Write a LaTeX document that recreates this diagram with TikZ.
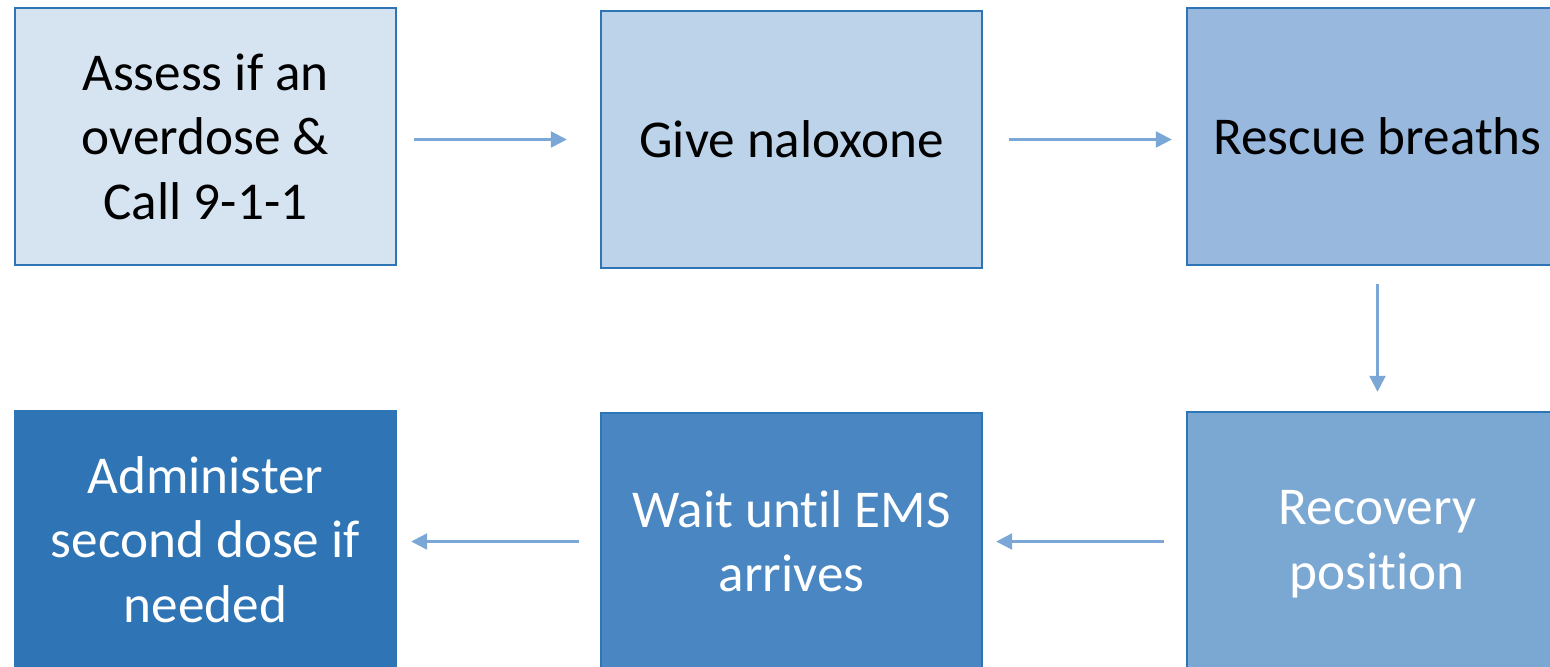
\documentclass[tikz,border=0pt]{standalone}
\usepackage{fontspec}
\setmainfont{Carlito}[Ligatures=NoCommon]
\usetikzlibrary{arrows.meta}
\definecolor{bordc}{HTML}{2E75B6}
\definecolor{arrc}{HTML}{7AA7D6}
\definecolor{fa}{HTML}{D6E3F0}
\definecolor{fb}{HTML}{BCD3EA}
\definecolor{fc}{HTML}{98B9DD}
\definecolor{fd}{HTML}{7BA7D3}
\definecolor{fe}{HTML}{4A86C1}
\definecolor{ff}{HTML}{2F75B5}
\tikzset{
  stepbox/.style={draw=bordc, line width=1.2pt, rectangle, minimum width=190.5pt, minimum height=128.5pt, inner sep=0pt, align=center, font=\fontsize{26.6}{32.2}\selectfont},
  arr/.style={draw=arrc, line width=1.2pt, -{Triangle[length=8pt,width=8pt]}}
}
\begin{document}
\begin{tikzpicture}[x=0.5pt,y=-0.5pt]
\useasboundingbox (0,0) rectangle (1550,666);
\clip (0,0) rectangle (1550,666);
\node[stepbox, fill=fa, text=black] (b1) at (205.5,136.5) {Assess if an\\overdose \&\\Call 9-1-1};
\node[stepbox, fill=fb, text=black] (b2) at (791.5,139.5) {Give naloxone};
\node[stepbox, fill=fc, text=black] (b3) at (1377.5,136.5) {Rescue breaths};
\node[stepbox, fill=fd, text=white, minimum height=132pt] (b4) at (1377.5,544) {Recovery\\position};
\node[stepbox, fill=fe, text=white] (b5) at (791.5,541.5) {Wait until EMS\\arrives};
\node[stepbox, fill=ff, text=white] (b6) at (205.5,539.5) {Administer\\second dose if\\needed};
\draw[arr] ([xshift=8.5pt]b1.east |- b2.west) -- ([xshift=-16.5pt]b2.west);
\draw[arr] ([xshift=13pt]b2.east) -- ([xshift=-7pt]b3.west |- b2.east);
\draw[arr, shorten <=9pt, shorten >=9.5pt] (b3.south) -- (b4.north);
\draw[arr] ([xshift=-11pt]b4.west |- b5.east) -- ([xshift=6.5pt]b5.east);
\draw[arr] ([xshift=-10.5pt]b5.west) -- ([xshift=7pt]b6.east |- b5.west);
\end{tikzpicture}
\end{document}
